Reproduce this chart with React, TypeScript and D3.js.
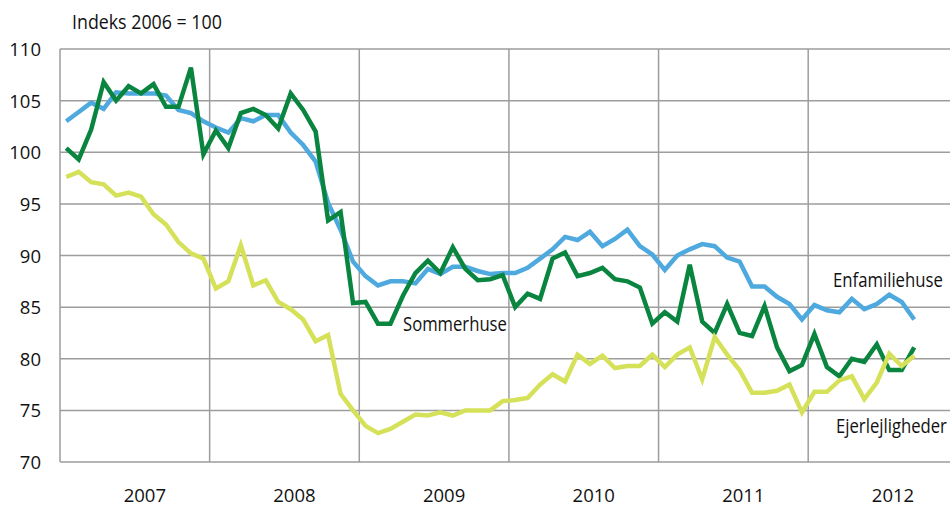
import * as d3 from 'd3';
import React, { useEffect, useRef } from 'react';

// years shown on the x axis, monthly data starts Jan 2007
const years = [2007, 2008, 2009, 2010, 2011, 2012];
const yTicks = [70, 75, 80, 85, 90, 95, 100, 105, 110];

// Indeks 2006 = 100, monthly from Jan 2007 to Sep 2012
const enfamiliehuse = [
  103.0, 103.9, 104.8, 104.2, 105.8, 105.7, 105.7, 105.7, 105.5, 104.1, 103.8, 103.0,
  102.4, 101.9, 103.3, 103.0, 103.6, 103.6, 101.9, 100.7, 99.1, 95.1, 92.5, 89.4,
  88.0, 87.1, 87.5, 87.5, 87.3, 88.7, 88.2, 88.9, 88.9, 88.5, 88.2, 88.3,
  88.3, 88.8, 89.7, 90.6, 91.8, 91.5, 92.3, 90.9, 91.6, 92.5, 90.9, 90.1,
  88.6, 90.0, 90.6, 91.1, 90.9, 89.8, 89.4, 87.0, 87.0, 86.0, 85.3, 83.8,
  85.2, 84.7, 84.5, 85.8, 84.8, 85.3, 86.2, 85.5, 83.8,
];
const sommerhuse = [
  100.4, 99.3, 102.2, 106.8, 105.0, 106.4, 105.7, 106.6, 104.4, 104.4, 108.2, 99.8,
  102.1, 100.4, 103.8, 104.2, 103.6, 102.3, 105.7, 104.1, 102.0, 93.4, 94.2, 85.4,
  85.5, 83.4, 83.4, 86.1, 88.3, 89.5, 88.3, 90.8, 88.7, 87.6, 87.7, 88.1,
  85.0, 86.3, 85.8, 89.7, 90.3, 88.0, 88.3, 88.8, 87.7, 87.5, 86.9, 83.4,
  84.5, 83.6, 89.1, 83.6, 82.5, 85.3, 82.5, 82.2, 85.1, 81.1, 78.8, 79.4,
  82.4, 79.2, 78.3, 80.0, 79.7, 81.4, 78.9, 78.9, 81.1,
];
const ejerlejligheder = [
  97.6, 98.1, 97.1, 96.9, 95.8, 96.1, 95.7, 94.0, 93.0, 91.3, 90.2, 89.7,
  86.8, 87.5, 91.0, 87.1, 87.6, 85.5, 84.8, 83.8, 81.7, 82.3, 76.6, 75.0,
  73.5, 72.8, 73.2, 73.9, 74.6, 74.5, 74.8, 74.5, 75.0, 75.0, 75.0, 75.9,
  76.0, 76.2, 77.5, 78.5, 77.8, 80.4, 79.5, 80.3, 79.1, 79.3, 79.3, 80.4,
  79.2, 80.4, 81.1, 78.0, 82.1, 80.4, 78.9, 76.7, 76.7, 76.9, 77.5, 74.8,
  76.8, 76.8, 77.9, 78.3, 76.1, 77.7, 80.5, 79.3, 80.3,
];

const FONT = '"Open Sans", sans-serif';

export default function App() {
  const ref = useRef<SVGSVGElement>(null);

  useEffect(() => {
    const left = 60, top = 49, bottom = 462;
    const monthW = 12.47;
    const nMonths = years.length * 12;

    const svg = d3.select(ref.current);
    svg.selectAll('*').remove();

    // month index -> x
    const x = d3.scaleLinear().domain([0, nMonths]).range([left, left + nMonths * monthW]);
    const y = d3.scaleLinear().domain([70, 110]).range([bottom, top]);

    const grid = svg.append('g').attr('stroke', '#9d9d9d').attr('stroke-width', 1.5);

    // horizontal grid
    grid.selectAll('.h')
      .data(yTicks)
      .enter().append('line')
      .attr('x1', left).attr('x2', x(nMonths))
      .attr('y1', d => y(d)).attr('y2', d => y(d));

    // vertical grid at year starts (first one is the axis)
    grid.selectAll('.v')
      .data(years)
      .enter().append('line')
      .attr('x1', (d, i) => x(i * 12)).attr('x2', (d, i) => x(i * 12))
      .attr('y1', y(110)).attr('y2', y(70));

    // y tick labels
    svg.append('g').selectAll('text')
      .data(yTicks)
      .enter().append('text')
      .attr('x', 41)
      .attr('y', d => y(d) + 7)
      .attr('text-anchor', 'end')
      .attr('font-family', FONT).attr('font-size', 18.5)
      .attr('fill', '#111')
      .text(d => d);

    // year labels
    svg.append('g').selectAll('text')
      .data(years)
      .enter().append('text')
      .attr('x', (d, i) => x(i * 12 + 6) + 10)
      .attr('y', 502)
      .attr('text-anchor', 'middle')
      .attr('font-family', FONT).attr('font-size', 18.5)
      .attr('fill', '#111')
      .text(d => d);

    const line = d3.line<number>()
      .x((d, i) => x(i + 0.5))
      .y(d => y(d));

    const series = [
      { data: enfamiliehuse, color: '#4ea9df' },
      { data: sommerhuse, color: '#0a8540' },
      { data: ejerlejligheder, color: '#d6e15a' },
    ];

    svg.append('g').selectAll('path')
      .data(series)
      .enter().append('path')
      .attr('fill', 'none')
      .attr('stroke', d => d.color)
      .attr('stroke-width', 4.5)
      .attr('d', d => line(d.data));

    // title + series labels, condensed horizontally to the widths in the reference
    const labels = [
      { text: 'Indeks 2006 = 100', x: 72, y: 29, w: 150 },
      { text: 'Enfamiliehuse', x: 833, y: 287, w: 110 },
      { text: 'Sommerhuse', x: 403, y: 331, w: 104 },
      { text: 'Ejerlejligheder', x: 836, y: 433, w: 111 },
    ];
    svg.append('g').selectAll('text')
      .data(labels)
      .enter().append('text')
      .attr('font-family', FONT).attr('font-size', 19.5)
      .attr('fill', '#111')
      .text(d => d.text)
      .attr('transform', function (d) {
        const natural = (this as SVGTextElement).getComputedTextLength() || d.w;
        return `translate(${d.x},${d.y}) scale(${d.w / natural},1)`;
      });
  }, []);

  return (
    <svg
      ref={ref}
      width={950}
      height={506}
      style={{ position: 'absolute', left: 0, top: 0, background: '#fff' }}
    />
  );
}
